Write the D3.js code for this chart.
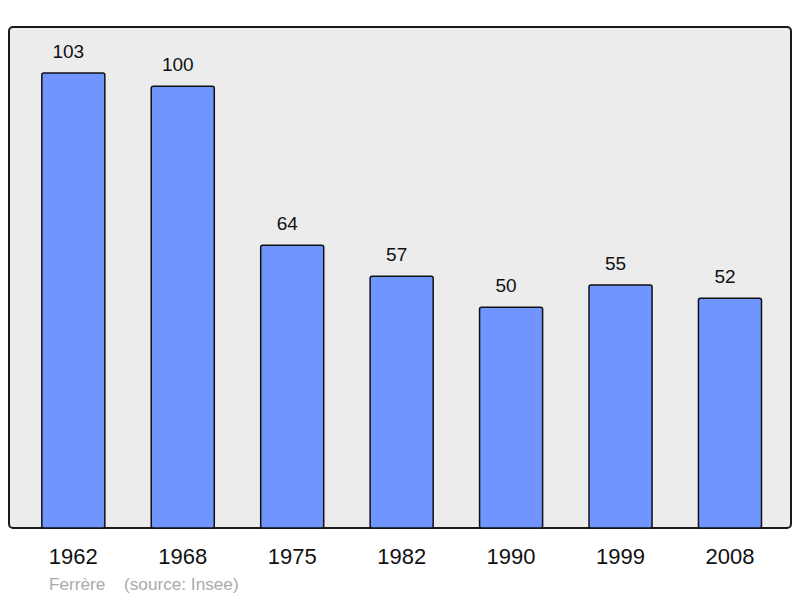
<!DOCTYPE html>
<html>
<head>
<meta charset="utf-8">
<script src="https://cdn.jsdelivr.net/npm/d3@7"></script>
<style>
  body { margin: 0; background: #fff; }
  svg { display: block; font-family: "Liberation Sans", Arial, sans-serif; }
</style>
</head>
<body>
<svg id="chart" width="800" height="598"></svg>
<script>
const years = ['1962', '1968', '1975', '1982', '1990', '1999', '2008'];
const population = [103, 100, 64, 57, 50, 55, 52];
const commune = 'Ferrère';
const source = '(source: Insee)';

const svg = d3.select('#chart');

// frame
svg.append('rect')
    .attr('x', 9)
    .attr('y', 27)
    .attr('width', 782)
    .attr('height', 501)
    .attr('rx', 4)
    .attr('fill', '#ececec')
    .attr('stroke', '#1a1a1a')
    .attr('stroke-width', 2);

const x = d3.scaleBand()
              .domain(years)
              .range([18.6, 784.7])
              .paddingInner(0.424)
              .paddingOuter(0.212);

const y = d3.scaleLinear()
              .domain([0, 103])
              .range([528, 73]);

const data = years.map((yr, i) => ({ year: yr, value: population[i] }));

svg.selectAll('.bar')
    .data(data)
    .enter()
    .append('rect')
      .classed('bar', true)
      .attr('x', d => x(d.year))
      .attr('y', d => y(d.value))
      .attr('width', x.bandwidth())
      .attr('height', d => y(0) - y(d.value))
      .attr('rx', 2)
      .attr('fill', '#7095ff')
      .attr('stroke', '#111')
      .attr('stroke-width', 1.5);

svg.selectAll('.value')
    .data(data)
    .enter()
    .append('text')
      .classed('value', true)
      .attr('x', d => x(d.year) + x.bandwidth() / 2 - 5)
      .attr('y', d => y(d.value) - 15)
      .attr('font-size', '19px')
      .attr('fill', '#111')
      .style('text-anchor', 'middle')
      .text(d => d.value);

svg.selectAll('.year')
    .data(data)
    .enter()
    .append('text')
      .classed('year', true)
      .attr('x', d => x(d.year) + x.bandwidth() / 2)
      .attr('y', 564)
      .attr('font-size', '22px')
      .attr('fill', '#111')
      .style('text-anchor', 'middle')
      .text(d => d.year);

svg.append('text')
    .attr('x', 49)
    .attr('y', 590)
    .attr('font-size', '17.2px')
    .attr('fill', '#aaa')
    .text(commune);

svg.append('text')
    .attr('x', 124)
    .attr('y', 590)
    .attr('font-size', '17.2px')
    .attr('fill', '#aaa')
    .text(source);
</script>
</body>
</html>
